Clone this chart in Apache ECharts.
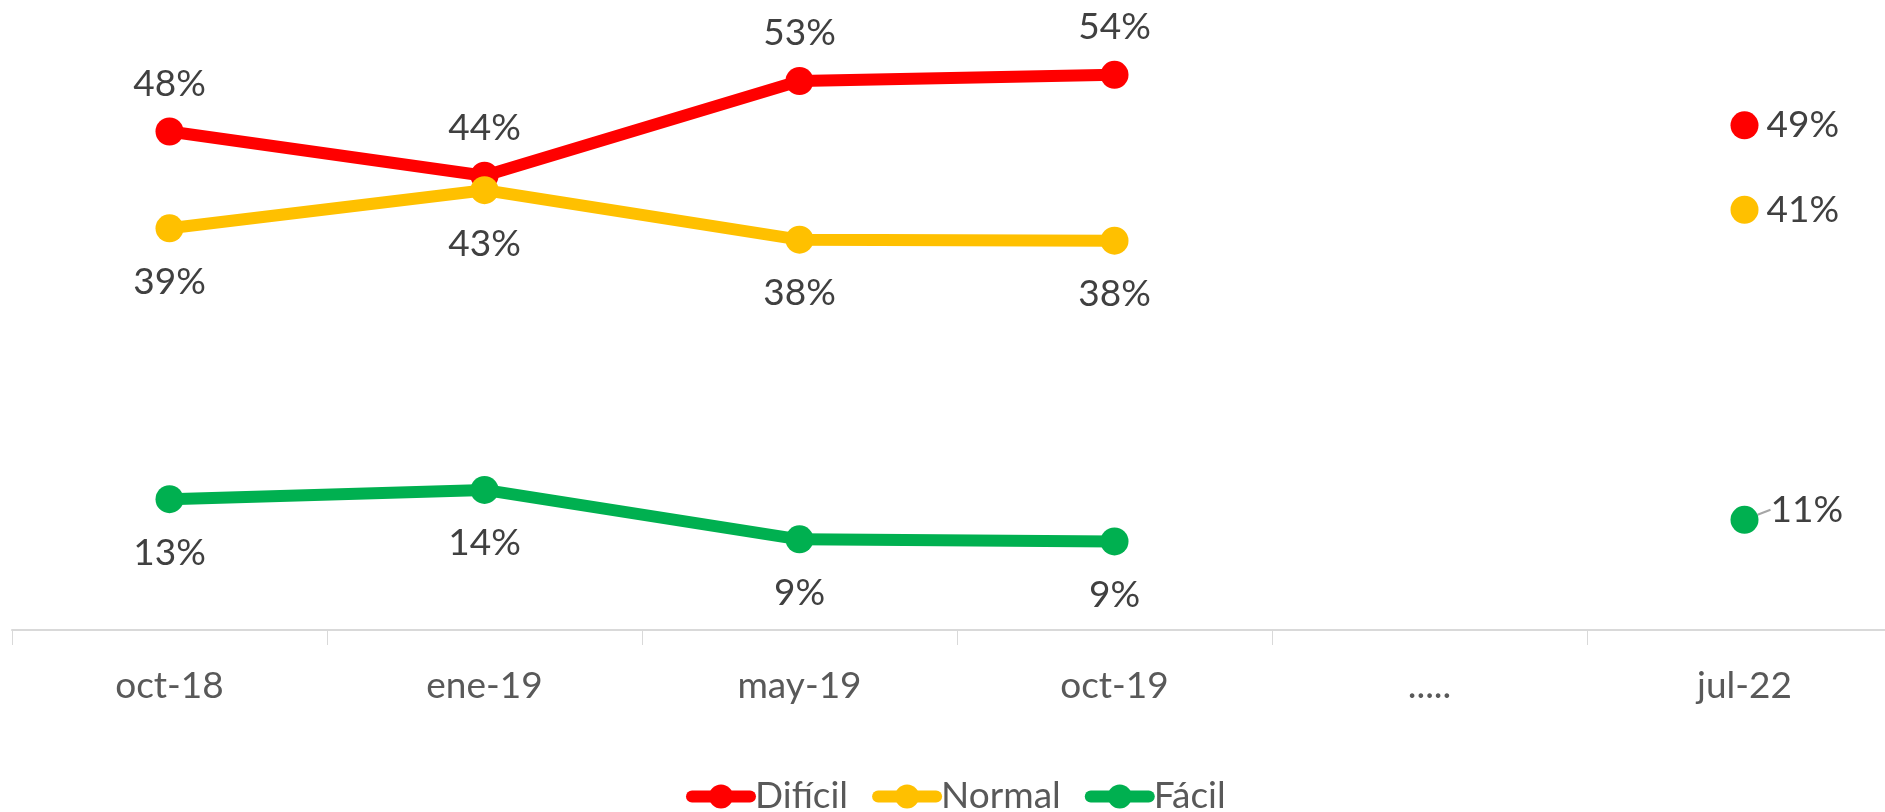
<!DOCTYPE html>
<html>
<head>
<meta charset="utf-8">
<script src="https://cdn.jsdelivr.net/npm/echarts@6/dist/echarts.min.js"></script>
<style>
html,body{margin:0;padding:0;background:#fff;}
#chart{width:1885px;height:812px;}
</style>
</head>
<body>
<div id="chart"></div>
<script>
const categories = ['oct-18', 'ene-19', 'may-19', 'oct-19', '.....', 'jul-22'];
const dificil = [0.484, 0.441, 0.533, 0.539, null, 0.490];
const normal  = [0.390, 0.427, 0.379, 0.378, null, 0.408];
const facil   = [0.127, 0.136, 0.088, 0.086, null, 0.107];
const seriesNames = ['Difícil', 'Normal', 'Fácil'];
const colors = ['#FF0000', '#FFC000', '#00B050'];

const FONT = 'Lato';
const pct = p => Math.round(p.value * 100) + '%';

function makeSeries(name, data, color, pos, dist, lastLabel) {
  return {
    name: name,
    type: 'line',
    data: data.map((v, i) => {
      if (v === null) return null;
      if (i === data.length - 1) {
        return Object.assign({ value: v }, lastLabel);
      }
      return v;
    }),
    symbol: 'circle',
    symbolSize: 28,
    showAllSymbol: true,
    connectNulls: false,
    color: color,
    lineStyle: { color: color, width: 12 },
    itemStyle: { color: color },
    label: {
      show: true,
      position: pos,
      distance: dist,
      formatter: pct,
      color: '#404040',
      fontFamily: FONT,
      fontSize: 37
    },
    labelLine: { show: false },
    emphasis: { disabled: true },
    z: 3
  };
}

const chart = echarts.init(document.getElementById('chart'), null, { renderer: 'canvas' });

const facilSeries = makeSeries(seriesNames[2], facil, colors[2], 'bottom', 21, {
  label: { position: 'right', distance: 8 },
  labelLine: { show: true, lineStyle: { color: '#a6a6a6', width: 2 } }
});
facilSeries.labelLayout = function (params) {
  if (params.dataIndex === 5) return { dx: 4, dy: -10 };
  return {};
};

chart.setOption({
  animation: false,
  backgroundColor: '#ffffff',
  grid: { left: 12, top: 12, width: 1890, bottom: 182, containLabel: false, outerBoundsMode: 'none' },
  xAxis: {
    type: 'category',
    data: categories,
    boundaryGap: true,
    axisLine: { show: true, lineStyle: { color: '#D9D9D9', width: 2 } },
    axisTick: { show: true, alignWithLabel: false, length: 15, lineStyle: { color: '#D9D9D9', width: 1 } },
    axisLabel: { color: '#595959', fontFamily: FONT, fontSize: 37, margin: 38, interval: 0 },
    splitLine: { show: false }
  },
  yAxis: {
    type: 'value',
    min: 0,
    max: 0.6,
    show: false
  },
  legend: {
    data: seriesNames,
    left: 686,
    top: 778,
    padding: 0,
    itemGap: 24,
    itemWidth: 58,
    itemHeight: 30,
    lineStyle: { width: 12, cap: 'round' },
    textStyle: { color: '#595959', fontFamily: FONT, fontSize: 37 }
  },
  series: [
    makeSeries(seriesNames[0], dificil, colors[0], 'top', 15, { label: { position: 'right', distance: 8 } }),
    makeSeries(seriesNames[1], normal, colors[1], 'bottom', 21, { label: { position: 'right', distance: 8 } }),
    facilSeries
  ]
});
</script>
</body>
</html>
